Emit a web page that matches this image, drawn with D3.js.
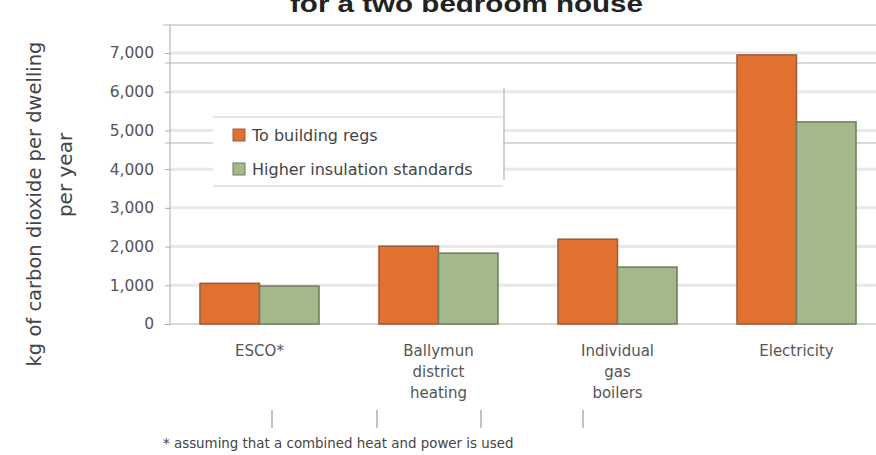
<!DOCTYPE html>
<html>
<head>
<meta charset="utf-8">
<script src="https://cdn.jsdelivr.net/npm/d3@7"></script>
<style>
  html, body { margin: 0; padding: 0; background: #fff; }
  svg { display: block; font-family: "DejaVu Sans", Verdana, sans-serif; }
</style>
</head>
<body>
<div id="chart"></div>
<script>
//////////////////////////// data /////////////////////////////////////////

const categories = ["ESCO*", "Ballymun district heating", "Individual gas boilers", "Electricity"];
const seriesNames = ["To building regs", "Higher insulation standards"];
const buildingRegs = [1050, 2010, 2190, 6950];
const higherInsulation = [980, 1830, 1470, 5220];
const yTicks = [0, 1000, 2000, 3000, 4000, 5000, 6000, 7000];

const titleText = "for a two bedroom house";
const yTitle = ["kg of carbon dioxide per dwelling", "per year"];
const footnote = "* assuming that a combined heat and power is used";

//////////////////////////// drawing //////////////////////////////////////

const createChart = () => {
  const width = 876, height = 455;
  const dims = { left: 170, right: 886, top: 25, bottom: 324, yTop: 53 };

  const colors = ["#e07131", "#a5b889"];
  const strokes = ["#9a5a3c", "#6e7a5c"];

  const svg = d3.select("#chart").append("svg")
    .attr("width", width).attr("height", height);

  // scales
  const x0 = d3.scaleBand()
    .domain(categories)
    .range([dims.left, dims.right])
    .paddingInner(0.335)
    .paddingOuter(0.1675);

  const x1 = d3.scaleBand()
    .domain(seriesNames)
    .range([0, x0.bandwidth()]);

  const y = d3.scaleLinear()
    .domain([0, 7000])
    .range([dims.bottom, dims.yTop]);

  // title (cut off at the top in the scan)
  svg.append("text")
    .attr("x", 290).attr("y", 12)
    .attr("font-family", "'Liberation Sans', Arial, sans-serif")
    .attr("font-size", 24).attr("font-weight", "bold").attr("fill", "#222")
    .attr("textLength", 353).attr("lengthAdjust", "spacingAndGlyphs")
    .text(titleText);

  // gridlines
  svg.append("g").selectAll("line")
    .data(yTicks.filter(d => d > 0))
    .join("line")
    .attr("x1", dims.left).attr("x2", width)
    .attr("y1", d => y(d)).attr("y2", d => y(d))
    .attr("stroke", "#e8e8e8").attr("stroke-width", 3);

  // frame and stray scan lines
  const frame = svg.append("g").attr("stroke", "#b4b4b4").attr("stroke-width", 1.2);
  frame.append("line").attr("x1", 163).attr("x2", width).attr("y1", 25).attr("y2", 25);
  frame.append("line").attr("x1", 165).attr("x2", width).attr("y1", 63).attr("y2", 63);
  frame.append("line").attr("x1", 165).attr("x2", width).attr("y1", 143).attr("y2", 143);
  frame.append("line").attr("x1", 504).attr("x2", 504).attr("y1", 88).attr("y2", 180);
  [272, 377, 481, 583].forEach(xx => {
    frame.append("line").attr("x1", xx).attr("x2", xx).attr("y1", 410).attr("y2", 428)
      .attr("stroke", "#999");
  });

  // y axis
  const yAxis = svg.append("g")
    .attr("transform", `translate(${dims.left},0)`)
    .call(d3.axisLeft(y).tickValues(yTicks).tickFormat(d3.format(",")).tickSize(5).tickPadding(11));
  yAxis.select(".domain").remove();
  yAxis.selectAll(".tick line").attr("stroke", "#aaa");
  yAxis.selectAll(".tick text")
    .attr("font-size", 15.5).attr("fill", "#555")
    .attr("font-family", "'DejaVu Sans', Verdana, sans-serif");
  svg.append("line")
    .attr("x1", dims.left).attr("x2", dims.left)
    .attr("y1", dims.top).attr("y2", dims.bottom)
    .attr("stroke", "#aaa");

  // baseline
  svg.append("line")
    .attr("x1", dims.left).attr("x2", width)
    .attr("y1", y(0)).attr("y2", y(0))
    .attr("stroke", "#d8d8d8").attr("stroke-width", 2);

  // legend box
  const legend = svg.append("g").attr("transform", "translate(213,117)");
  legend.append("rect")
    .attr("width", 290).attr("height", 69)
    .attr("fill", "#fff");
  legend.append("line").attr("x1", 0).attr("x2", 290).attr("y1", 0).attr("y2", 0)
    .attr("stroke", "#ccc");
  legend.append("line").attr("x1", 0).attr("x2", 290).attr("y1", 69).attr("y2", 69)
    .attr("stroke", "#ccc");
  const items = legend.selectAll(".item")
    .data(seriesNames)
    .join("g")
    .attr("class", "item")
    .attr("transform", (d, i) => `translate(20,${12 + i * 34})`);
  items.append("rect")
    .attr("width", 12).attr("height", 12)
    .attr("fill", (d, i) => colors[i])
    .attr("stroke", (d, i) => strokes[i]);
  items.append("text")
    .attr("x", 19).attr("y", 12)
    .attr("font-size", 16).attr("fill", "#444")
    .text(d => d);

  // bars
  const rows = categories.map((c, i) => ({ cat: c, vals: [buildingRegs[i], higherInsulation[i]] }));
  const groups = svg.append("g").selectAll("g")
    .data(rows)
    .join("g")
    .attr("transform", d => `translate(${x0(d.cat)},0)`);
  groups.selectAll("rect")
    .data(d => d.vals.map((v, i) => ({ key: seriesNames[i], v, i })))
    .join("rect")
    .attr("x", d => x1(d.key))
    .attr("y", d => y(d.v))
    .attr("width", x1.bandwidth())
    .attr("height", d => y(0) - y(d.v))
    .attr("fill", d => colors[d.i])
    .attr("stroke", d => strokes[d.i])
    .attr("stroke-width", 1.5);

  // category labels
  const catLabels = svg.append("g").selectAll("text")
    .data(categories)
    .join("text")
    .attr("x", d => x0(d) + x0.bandwidth() / 2)
    .attr("y", 356)
    .attr("text-anchor", "middle")
    .attr("font-size", 15).attr("fill", "#555");
  catLabels.selectAll("tspan")
    .data(d => d.split(" "))
    .join("tspan")
    .attr("x", function () { return d3.select(this.parentNode).attr("x"); })
    .attr("dy", (d, i) => i === 0 ? 0 : 21)
    .text(d => d);

  // y title
  svg.append("text")
    .attr("transform", "translate(41,204) rotate(-90)")
    .attr("text-anchor", "middle")
    .attr("font-size", 19.5).attr("fill", "#444")
    .text(yTitle[0]);
  svg.append("text")
    .attr("transform", "translate(72,175) rotate(-90)")
    .attr("text-anchor", "middle")
    .attr("font-size", 20).attr("fill", "#444")
    .text(yTitle[1]);

  // footnote
  svg.append("text")
    .attr("x", 163).attr("y", 448)
    .attr("font-size", 13.4).attr("fill", "#444")
    .text(footnote);
};

createChart();
</script>
</body>
</html>
